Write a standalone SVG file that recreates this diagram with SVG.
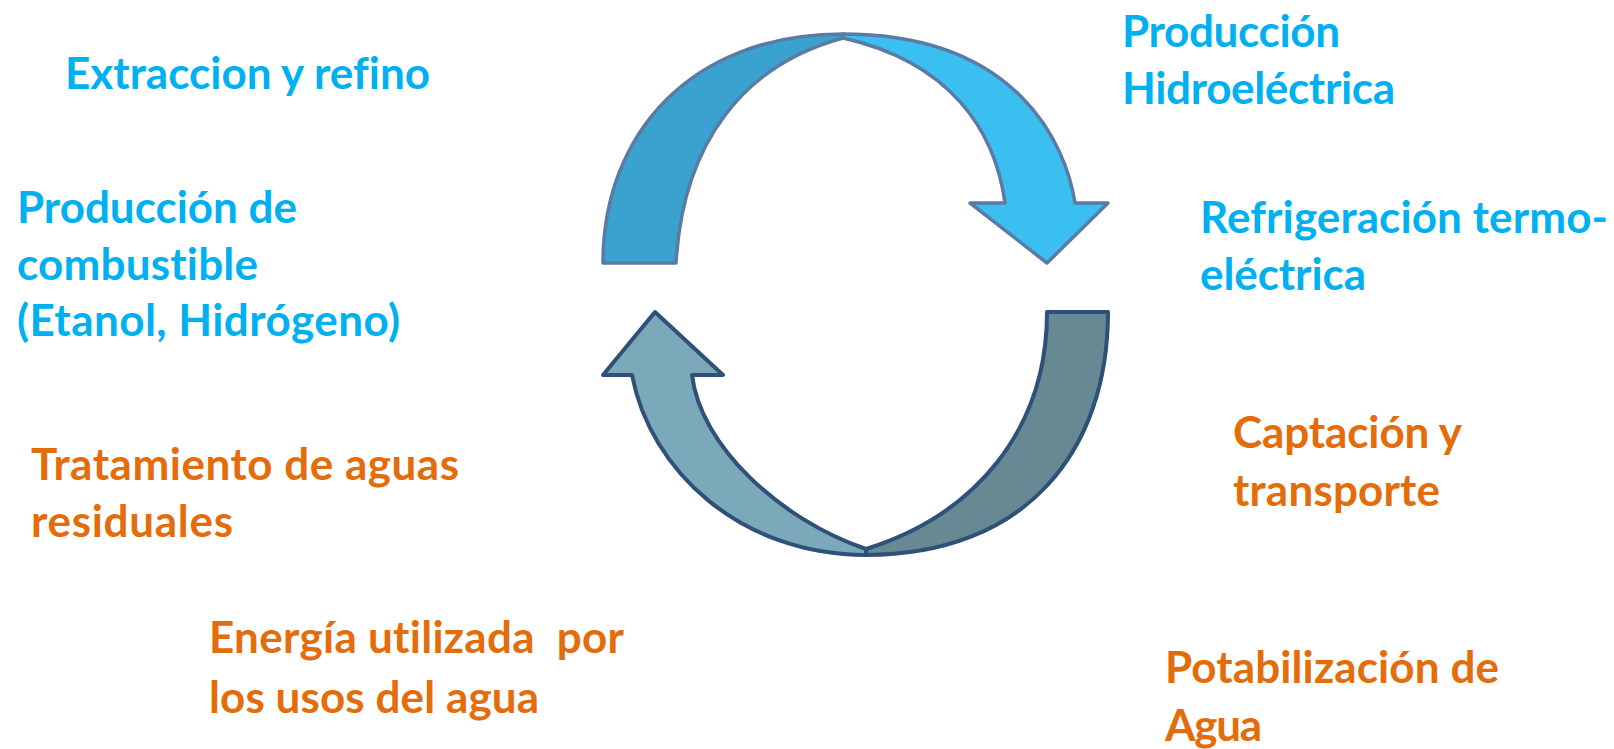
<svg xmlns="http://www.w3.org/2000/svg" width="1614" height="749" viewBox="0 0 1614 749">
<style>
.t{font-family:Lato,"Open Sans","Liberation Sans",sans-serif;font-weight:700;font-size:44px;font-variant-ligatures:none;font-feature-settings:"liga" 0,"clig" 0}
.b{fill:#00b0f0}
.o{fill:#e46c0a}
.top{stroke:#5b7ba6;stroke-width:3.5;stroke-linejoin:round}
.bot{stroke:#2e5079;stroke-width:4;stroke-linejoin:round}
</style>
<rect width="1614" height="749" fill="#ffffff"/>
<g id="connectors">
<g id="arrow-top">
<path class="top" fill="#3aa2cf" d="M603,263 C603,135 690,34 843,34 L843,38 C743,65 683,143 676,263 Z"/>
<path class="top" fill="#3bbef0" d="M843,34 C1018,34 1066,145 1075,203 L1108,203 L1047,263 L970,203 L1005,203 C995,130 950,62 843,38 Z"/>
</g>
<g id="arrow-bottom">
<path class="bot" fill="#668993" d="M1047,312 L1108,312 C1108,452 1025,555 866,555 L866,549 C975,515 1047,430 1047,312 Z"/>
<path class="bot" fill="#7ba9b9" d="M655,312 L723,375 L692,375 C700,445 780,520 866,549 L866,555 C740,555 650,470 632,375 L603,375 Z"/>
</g>
</g>
<g id="n-extraccion"><text class="t b" x="65" y="89" textLength="365">Extraccion y refino</text></g>
<g id="n-combustible">
<text class="t b" x="17" y="223" textLength="280">Producción de</text>
<text class="t b" x="17" y="280" textLength="241">combustible</text>
<text class="t b" x="17" y="336" textLength="383">(Etanol, Hidrógeno)</text>
</g>
<g id="n-hidro">
<text class="t b" x="1122" y="47" textLength="218">Producción</text>
<text class="t b" x="1122" y="104" textLength="273">Hidroeléctrica</text>
</g>
<g id="n-refrigeracion">
<text class="t b" x="1200" y="233" textLength="408">Refrigeración termo-</text>
<text class="t b" x="1200" y="290" textLength="166">eléctrica</text>
</g>
<g id="n-captacion">
<text class="t o" x="1233" y="448" textLength="229">Captación y</text>
<text class="t o" x="1233" y="506" textLength="207">transporte</text>
</g>
<g id="n-potabilizacion">
<text class="t o" x="1165" y="683" textLength="334">Potabilización de</text>
<text class="t o" x="1165" y="741" textLength="97">Agua</text>
</g>
<g id="n-tratamiento">
<text class="t o" x="31" y="480" textLength="428">Tratamiento de aguas</text>
<text class="t o" x="31" y="537" textLength="202">residuales</text>
</g>
<g id="n-energia">
<text class="t o" x="209" y="653" textLength="415" xml:space="preserve">Energía utilizada  por</text>
<text class="t o" x="209" y="713" textLength="330">los usos del agua</text>
</g>
</svg>
